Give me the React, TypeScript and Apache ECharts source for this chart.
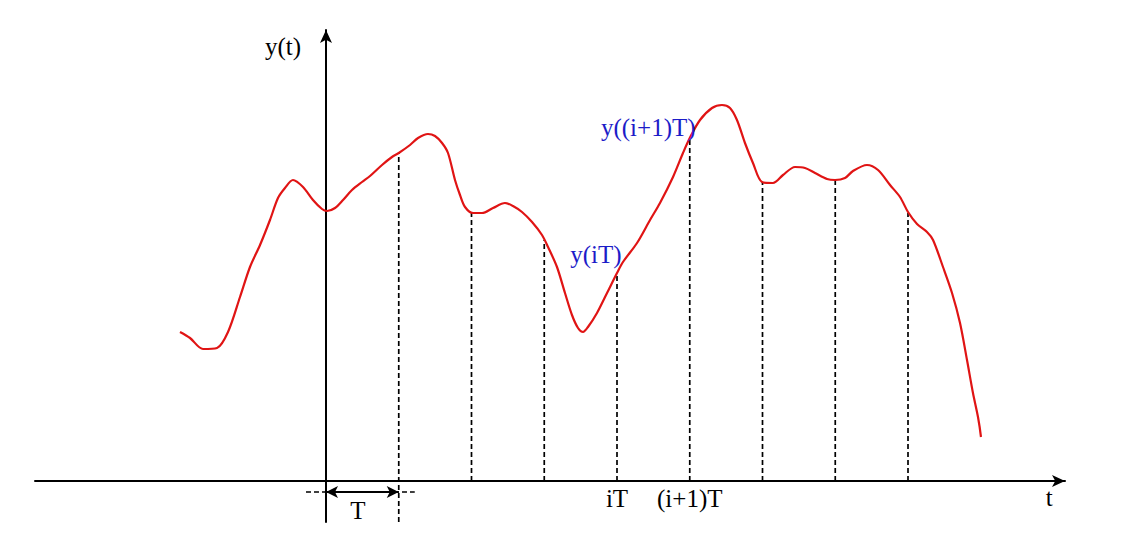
import React, { useEffect, useRef } from "react";
import * as echarts from "echarts";

// Signal curve y(t); t in units of T, y in arbitrary units
const curveT = [
  -2.007, -1.869, -1.691, -1.498, -1.347, -1.182, -1.045, -0.907, -0.77, -0.66, -0.564, -0.454, -0.316, -0.179, -0.055,
  0.014, 0.124, 0.234, 0.357, 0.495, 0.605, 0.77, 0.907, 1.0, 1.155, 1.265, 1.402, 1.498, 1.595, 1.677, 1.773, 1.842,
  1.911, 2.021, 2.144, 2.296, 2.46, 2.57, 2.694, 2.832, 2.969, 3.052, 3.175, 3.285, 3.381, 3.464, 3.533, 3.601, 3.725,
  3.863, 4.0, 4.082, 4.275, 4.454, 4.591, 4.77, 4.907, 5.0, 5.141, 5.306, 5.443, 5.553, 5.649, 5.759, 5.869, 5.993,
  6.144, 6.282, 6.447, 6.584, 6.722, 6.887, 6.997, 7.134, 7.244, 7.436, 7.588, 7.753, 7.89, 8.0, 8.124, 8.261, 8.344,
  8.481, 8.605, 8.715, 8.811, 8.893, 8.962, 9.003,
];
const curveY = [
  1.49, 1.43, 1.32, 1.33, 1.49, 1.84, 2.14, 2.36, 2.61, 2.83, 2.93, 3.01, 2.94, 2.81, 2.72,
  2.7, 2.73, 2.81, 2.91, 2.99, 3.05, 3.16, 3.24, 3.28, 3.36, 3.43, 3.47, 3.45, 3.38, 3.28, 3.01, 2.86,
  2.74, 2.68, 2.68, 2.73, 2.78, 2.75, 2.69, 2.59, 2.46, 2.34, 2.14, 1.88, 1.66, 1.53, 1.49, 1.54, 1.68,
  1.88, 2.08, 2.19, 2.38, 2.61, 2.78, 3.04, 3.28, 3.43, 3.61, 3.73, 3.76, 3.73, 3.61, 3.38, 3.18, 2.99,
  2.98, 3.06, 3.14, 3.13, 3.08, 3.02, 3.01, 3.03, 3.1, 3.16, 3.11, 2.96, 2.84, 2.69, 2.57, 2.49, 2.41,
  2.14, 1.88, 1.58, 1.21, 0.88, 0.64, 0.44,
];

// Sampling instants (multiples of T) and sampled values
const sampleT = [1, 2, 3, 4, 5, 6, 7, 8];
const sampleY = [3.28, 2.68, 2.41, 2.08, 3.44, 2.99, 3.01, 2.68];
const sampleBottom = [-0.41, 0, 0, 0, 0, 0, 0, 0];

// Axis ranges
const xMin = -4;
const xMax = 10.158;
const yMin = -0.41;
const yMax = 4.51;

// x tick labels
const tickValues = [4, 5];
const tickLabels = ["iT", "(i+1)T"];

// T span marker
const spanY = -0.11;
const spanDashed = [-0.275, 1.22];
const spanArrow = [0, 1];

// Annotations
const noteTexts = ["y(t)", "t", "T", "y((i+1)T)", "y(iT)"];
const noteT = [-0.59, 9.94, 0.44, 4.43, 3.71];
const noteY = [4.35, -0.16, -0.29, 3.54, 2.27];
const noteBlue = [false, false, false, true, true];

const FONT = "'Liberation Serif', 'DejaVu Serif', serif";
const GRID = { left: 35, right: 56, top: 30, bottom: 15 };
const H = 537;

export default function App() {
  const ref = useRef<HTMLDivElement>(null);

  useEffect(() => {
    if (!ref.current) return;
    const chart = echarts.init(ref.current, null, { renderer: "svg" });

    const gridH = H - GRID.top - GRID.bottom;
    const xAxisOffset = -((0 - yMin) / (yMax - yMin)) * gridH;

    const sampleSeries = sampleT.map((t, i) => ({
      type: "line",
      data: [
        [t, sampleBottom[i]],
        [t, sampleY[i]],
      ],
      symbol: "none",
      silent: true,
      lineStyle: { color: "#000", width: 1.7, type: [5, 3] },
      z: 2,
    }));

    const option: any = {
      animation: false,
      backgroundColor: "#fff",
      grid: { ...GRID, containLabel: false, outerBoundsMode: "none" },
      xAxis: {
        type: "value",
        min: xMin,
        max: xMax,
        interval: 1,
        offset: xAxisOffset,
        splitLine: { show: false },
        axisTick: { show: false },
        axisLine: {
          show: true,
          onZero: false,
          lineStyle: { color: "#000", width: 2 },
          symbol: ["none", "arrow"],
          symbolSize: [9, 13],
          symbolOffset: [0, 0],
        },
        axisLabel: {
          show: true,
          margin: 5,
          color: "#000",
          fontFamily: FONT,
          fontSize: 25,
          showMinLabel: false,
          showMaxLabel: false,
          formatter: (v: number) => {
            const k = tickValues.indexOf(Math.round(v));
            return k >= 0 && Math.abs(v - Math.round(v)) < 1e-6 ? tickLabels[k] : "";
          },
        },
      },
      yAxis: {
        type: "value",
        min: yMin,
        max: yMax,
        splitLine: { show: false },
        axisTick: { show: false },
        axisLabel: { show: false },
        axisLine: {
          show: true,
          onZero: true,
          lineStyle: { color: "#000", width: 2 },
          symbol: ["none", "arrow"],
          symbolSize: [9, 13],
          symbolOffset: [0, 0],
        },
      },
      series: [
        ...sampleSeries,
        {
          type: "line",
          data: [
            [spanDashed[0], spanY],
            [spanDashed[1], spanY],
          ],
          symbol: "none",
          silent: true,
          lineStyle: { color: "#000", width: 1.7, type: [5, 3] },
          z: 2,
          markLine: {
            silent: true,
            symbol: ["arrow", "arrow"],
            symbolSize: [9, 12],
            label: { show: false },
            lineStyle: { color: "#000", width: 2, type: "solid" },
            data: [
              [
                { coord: [spanArrow[0], spanY] },
                { coord: [spanArrow[1], spanY] },
              ],
            ],
          },
        },
        {
          type: "line",
          data: curveT.map((t, i) => [t, curveY[i]]),
          symbol: "none",
          smooth: 0.3,
          silent: true,
          lineStyle: { color: "#e01414", width: 2.2 },
          z: 5,
        },
        {
          type: "scatter",
          symbolSize: 0,
          silent: true,
          z: 6,
          itemStyle: { opacity: 1 },
          data: noteTexts.map((txt, i) => ({
            value: [noteT[i], noteY[i]],
            itemStyle: { opacity: 1 },
            label: {
              show: true,
              position: "inside",
              formatter: txt,
              opacity: 1,
              color: noteBlue[i] ? "#1c1cc8" : "#000",
              fontFamily: FONT,
              fontSize: 25,
              align: "center",
              verticalAlign: "middle",
            },
          })),
        },
      ],
    };

    chart.setOption(option);
    return () => chart.dispose();
  }, []);

  return (
    <div
      ref={ref}
      style={{ position: "fixed", left: 0, top: 0, width: 1121, height: H, background: "#fff" }}
    />
  );
}
